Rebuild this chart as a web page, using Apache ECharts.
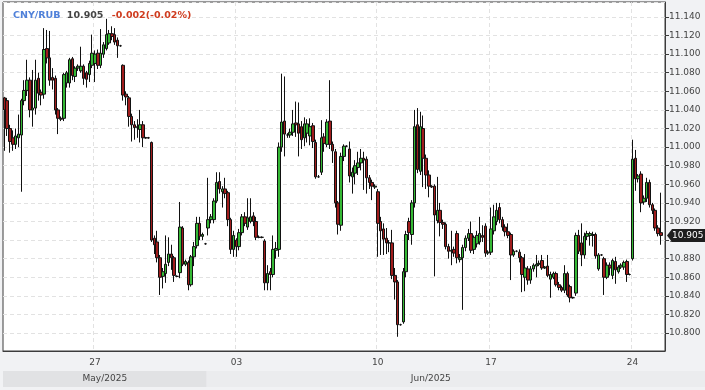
<!DOCTYPE html>
<html><head><meta charset="utf-8">
<script src="https://cdn.jsdelivr.net/npm/echarts@6/dist/echarts.min.js"></script>
<style>html,body{margin:0;padding:0;background:#f1f2f4}#c{width:705px;height:390px}</style>
</head><body><div id="c"></div>
<script>
// trading sessions: [date, number of bars shown]
const sessions = [
  ['2025-05-21',2],['2025-05-22',10],['2025-05-23',10],['2025-05-26',10],['2025-05-27',10],
  ['2025-05-28',10],['2025-05-29',10],['2025-05-30',10],['2025-06-02',10],['2025-06-03',10],
  ['2025-06-04',10],['2025-06-05',10],['2025-06-06',10],['2025-06-09',10],['2025-06-10',10],
  ['2025-06-11',10],['2025-06-13',10],['2025-06-16',10],['2025-06-17',10],['2025-06-18',10],
  ['2025-06-19',10],['2025-06-20',10],['2025-06-23',10],['2025-06-24',10],['2025-06-25',2]
];
const dayTickLabels = {'2025-05-27':'27','2025-06-03':'03','2025-06-10':'10','2025-06-17':'17','2025-06-24':'24'};
const monthLabels = ['May/2025','Jun/2025'];
const yTickValues = ['11.140','11.120','11.100','11.080','11.060','11.040','11.020','11.000','10.980','10.960','10.940','10.920','10.900','10.880','10.860','10.840','10.820','10.800'];
const titleName = 'CNY/RUB';
const lastPrice = 10.905;
const change = '-0.002(-0.02%)';
// [open, close, low, high]
const ohlc = [
[11.053,11.040,10.996,11.054],[11.050,11.020,11.012,11.053],[11.020,11.006,10.994,11.024],[11.010,11.003,10.996,11.018],[11.003,11.012,10.998,11.020],
[11.010,11.014,11.000,11.035],[11.013,11.050,10.952,11.052],[11.050,11.061,11.045,11.072],[11.061,11.072,11.055,11.094],[11.072,11.040,11.032,11.075],
[11.040,11.042,11.022,11.083],[11.042,11.072,11.035,11.094],[11.074,11.058,11.050,11.080],[11.059,11.056,11.045,11.062],[11.057,11.105,11.052,11.128],
[11.106,11.096,11.090,11.126],[11.096,11.072,11.066,11.125],[11.075,11.072,11.062,11.085],[11.074,11.040,11.035,11.077],[11.040,11.031,11.014,11.042],
[11.031,11.030,11.028,11.033],[11.031,11.078,11.028,11.080],[11.069,11.080,11.064,11.082],[11.069,11.094,11.064,11.096],[11.095,11.077,11.072,11.097],
[11.076,11.085,11.070,11.087],[11.085,11.087,11.082,11.089],[11.082,11.087,11.080,11.108],[11.087,11.074,11.067,11.089],[11.080,11.073,11.064,11.082],
[11.078,11.090,11.070,11.093],[11.088,11.101,11.085,11.121],[11.090,11.100,11.070,11.104],[11.101,11.088,11.084,11.105],[11.088,11.101,11.085,11.127],
[11.100,11.110,11.096,11.113],[11.106,11.121,11.104,11.138],[11.112,11.122,11.110,11.126],[11.122,11.119,11.115,11.130],[11.121,11.113,11.110,11.128],
[11.115,11.109,11.096,11.118],[11.109,11.109,11.108,11.110],[11.088,11.056,11.050,11.089],[11.057,11.054,11.045,11.060],[11.053,11.033,11.022,11.055],
[11.033,11.024,11.006,11.036],[11.024,11.021,11.008,11.028],[11.021,11.022,11.010,11.030],[11.019,11.024,11.005,11.040],[11.024,11.010,11.000,11.028],
[11.010,11.010,11.009,11.011],[11.010,11.010,11.009,11.011],[11.005,10.900,10.898,11.006],[10.902,10.895,10.885,10.905],[10.898,10.881,10.876,10.910],
[10.881,10.860,10.841,10.884],[10.861,10.866,10.848,10.870],[10.864,10.874,10.854,10.905],[10.876,10.885,10.872,10.903],[10.885,10.881,10.868,10.895],
[10.881,10.862,10.855,10.883],[10.861,10.861,10.860,10.862],[10.865,10.914,10.859,10.941],[10.913,10.874,10.872,10.915],[10.874,10.877,10.872,10.879],
[10.876,10.852,10.846,10.878],[10.852,10.882,10.850,10.884],[10.882,10.893,10.872,10.898],[10.894,10.918,10.891,10.925],[10.918,10.904,10.900,10.925],
[10.904,10.906,10.900,10.908],[10.896,10.896,10.895,10.897],[10.913,10.922,10.905,10.967],[10.922,10.925,10.918,10.928],[10.922,10.942,10.918,10.945],
[10.942,10.962,10.940,10.973],[10.963,10.955,10.950,10.973],[10.952,10.955,10.935,10.958],[10.955,10.950,10.945,10.967],[10.951,10.922,10.915,10.953],
[10.922,10.890,10.885,10.924],[10.890,10.905,10.882,10.910],[10.900,10.893,10.882,10.902],[10.893,10.908,10.889,10.912],[10.908,10.925,10.905,10.928],
[10.925,10.918,10.915,10.930],[10.914,10.924,10.911,10.945],[10.920,10.925,10.918,10.945],[10.926,10.920,10.915,10.930],[10.920,10.903,10.900,10.925],
[10.903,10.903,10.902,10.905],[10.903,10.903,10.902,10.904],[10.899,10.854,10.846,10.901],[10.854,10.864,10.846,10.873],[10.866,10.863,10.846,10.870],
[10.863,10.890,10.860,10.905],[10.889,10.891,10.880,10.898],[10.890,11.000,10.882,11.005],[11.000,11.027,10.995,11.079],[11.028,11.014,10.990,11.076],
[11.013,11.013,11.010,11.015],[11.013,11.016,11.010,11.020],[11.016,11.025,11.012,11.040],[11.026,11.024,11.011,11.049],[11.025,11.015,10.990,11.048],
[11.022,11.008,10.998,11.028],[11.010,11.025,11.001,11.032],[11.015,11.025,11.005,11.030],[11.012,11.022,11.002,11.031],[11.023,11.006,10.999,11.026],
[11.005,10.968,10.966,11.008],[10.968,10.968,10.967,10.970],[10.973,11.010,10.970,11.029],[11.011,11.004,10.995,11.015],[11.003,11.027,11.000,11.030],
[11.028,11.003,10.998,11.072],[11.003,10.996,10.983,11.006],[10.995,10.940,10.935,10.998],[10.940,10.917,10.906,10.942],[10.916,10.990,10.910,10.994],
[10.990,11.001,10.985,11.003],[11.001,11.001,11.000,11.002],[10.998,10.969,10.962,11.006],[10.968,10.973,10.950,10.978],[10.972,10.980,10.960,10.986],
[10.978,10.983,10.970,10.995],[10.983,10.988,10.975,10.998],[10.988,10.986,10.954,10.995],[10.987,10.967,10.950,10.990],[10.967,10.962,10.955,10.970],
[10.962,10.958,10.943,10.965],[10.957,10.958,10.955,10.960],[10.952,10.918,10.882,10.955],[10.920,10.910,10.884,10.925],[10.912,10.901,10.884,10.918],
[10.902,10.897,10.885,10.913],[10.897,10.897,10.887,10.900],[10.897,10.862,10.858,10.911],[10.862,10.855,10.836,10.870],[10.855,10.809,10.796,10.857],
[10.809,10.809,10.808,10.810],[10.812,10.866,10.810,10.870],[10.866,10.906,10.860,10.910],[10.920,10.908,10.900,10.924],[10.906,10.940,10.895,10.943],
[10.940,11.022,10.935,11.040],[11.024,10.976,10.972,11.042],[10.974,11.022,10.970,11.038],[11.020,10.988,10.957,11.034],[10.988,10.970,10.955,10.992],
[10.970,10.958,10.946,10.975],[10.958,10.957,10.956,10.959],[10.958,10.927,10.861,10.960],[10.921,10.932,10.918,10.968],[10.932,10.919,10.904,10.940],
[10.919,10.917,10.912,10.922],[10.917,10.893,10.890,10.919],[10.893,10.888,10.880,10.896],[10.888,10.889,10.873,10.910],[10.890,10.886,10.882,10.893],
[10.907,10.881,10.875,10.910],[10.879,10.881,10.876,10.885],[10.881,10.892,10.825,10.895],[10.892,10.902,10.888,10.905],[10.902,10.907,10.899,10.912],
[10.907,10.889,10.886,10.920],[10.890,10.903,10.885,10.905],[10.896,10.905,10.892,10.910],[10.898,10.907,10.895,10.925],[10.905,10.903,10.898,10.916],
[10.915,10.886,10.882,10.918],[10.886,10.887,10.884,10.889],[10.887,10.912,10.884,10.935],[10.910,10.925,10.906,10.938],[10.920,10.932,10.916,10.940],
[10.935,10.922,10.918,10.940],[10.922,10.914,10.910,10.925],[10.914,10.909,10.904,10.917],[10.909,10.905,10.902,10.918],[10.906,10.884,10.857,10.908],
[10.884,10.888,10.882,10.890],[10.888,10.888,10.887,10.889],[10.887,10.881,10.876,10.890],[10.881,10.863,10.844,10.883],[10.860,10.870,10.845,10.885],
[10.869,10.857,10.852,10.872],[10.857,10.869,10.853,10.872],[10.869,10.873,10.866,10.875],[10.872,10.874,10.860,10.884],[10.874,10.875,10.872,10.878],
[10.878,10.870,10.868,10.884],[10.870,10.871,10.869,10.872],[10.872,10.862,10.860,10.884],[10.858,10.863,10.838,10.866],[10.860,10.864,10.858,10.866],
[10.864,10.852,10.850,10.866],[10.852,10.849,10.846,10.855],[10.849,10.846,10.844,10.851],[10.846,10.864,10.843,10.873],[10.864,10.841,10.839,10.866],
[10.850,10.838,10.833,10.852],[10.838,10.838,10.837,10.839],[10.843,10.905,10.840,10.908],[10.905,10.888,10.885,10.911],[10.897,10.884,10.872,10.918],
[10.884,10.904,10.880,10.908],[10.904,10.907,10.900,10.910],[10.905,10.907,10.894,10.909],[10.905,10.906,10.893,10.909],[10.906,10.883,10.880,10.908],
[10.869,10.884,10.867,10.886],[10.884,10.884,10.883,10.885],[10.880,10.860,10.841,10.882],[10.860,10.873,10.858,10.876],[10.873,10.870,10.862,10.876],
[10.862,10.878,10.858,10.880],[10.877,10.868,10.853,10.882],[10.866,10.871,10.864,10.873],[10.871,10.873,10.869,10.875],[10.871,10.876,10.868,10.878],
[10.877,10.863,10.855,10.879],[10.863,10.863,10.862,10.864],[10.880,10.987,10.878,11.008],[10.988,10.966,10.953,10.997],[10.966,10.969,10.962,10.971],
[10.971,10.940,10.930,10.974],[10.941,10.945,10.938,10.948],[10.945,10.962,10.941,10.967],[10.962,10.938,10.935,10.965],[10.938,10.932,10.928,10.940],
[10.932,10.913,10.910,10.934],[10.913,10.907,10.904,10.916],[10.908,10.905,10.895,10.951],
'-'
];

// build categories from sessions
const categories = [];
const tickIndex = {};
const monthStart = {};
sessions.forEach(([d, n]) => {
  if (dayTickLabels[d]) tickIndex[categories.length] = dayTickLabels[d];
  const m = d.slice(0, 7);
  if (monthStart[m] === undefined) monthStart[m] = categories.length;
  for (let k = 0; k < n; k++) categories.push(d + ' #' + k);
});
const showTick = (i) => tickIndex[i] !== undefined;

const FONT = 'DejaVu Sans';
const chart = echarts.init(document.getElementById('c'), null, {renderer: 'canvas'});
chart.setOption({
  animation: false,
  backgroundColor: '#f1f2f4',
  textStyle: {fontFamily: FONT},
  title: {
    left: 8, top: 2,
    text: '{a|' + titleName + '} {b|' + lastPrice.toFixed(3) + '} {c|' + change + '}',
    textStyle: {
      rich: {
        a: {color: '#4f80d9', fontSize: 9.5, fontWeight: 'bold', fontFamily: FONT},
        b: {color: '#444', fontSize: 9.5, fontWeight: 'bold', fontFamily: FONT},
        c: {color: '#cf3b1e', fontSize: 9.5, fontWeight: 'bold', fontFamily: FONT, padding: [0, 0, 0, 2]}
      }
    }
  },
  grid: {left: 3, top: 2, width: 662, height: 349, show: true, backgroundColor: '#ffffff', borderColor: '#3c3c3c', borderWidth: 1, z: 0},
  xAxis: {
    type: 'category', data: categories, boundaryGap: true,
    axisLine: {show: true, lineStyle: {color: '#3c3c3c'}},
    axisTick: {show: false, interval: showTick},
    axisLabel: {interval: showTick, formatter: (v, i) => tickIndex[i] || '', fontSize: 9, color: '#444', margin: 7, fontFamily: FONT},
    splitLine: {show: true, interval: showTick, lineStyle: {color: '#e2e2e2', type: [4, 3]}}
  },
  yAxis: {
    type: 'value', position: 'right', scale: true,
    min: 10.7807, max: 11.1561, splitNumber: 19, minInterval: 0.02, maxInterval: 0.02,
    axisLine: {show: true, lineStyle: {color: '#3c3c3c'}},
    axisTick: {show: true, length: 4, lineStyle: {color: '#3c3c3c'}},
    axisLabel: {
      showMinLabel: false, showMaxLabel: false, fontSize: 9, color: '#444', margin: 4, fontFamily: FONT,
      formatter: (v) => { const s = v.toFixed(3); return yTickValues.indexOf(s) >= 0 ? s : ''; }
    },
    splitLine: {show: true, lineStyle: {color: '#e2e2e2', type: [4, 3]}}
  },
  series: [{
    type: 'candlestick', data: ohlc, barWidth: 3,
    itemStyle: {color: '#35b835', color0: '#a01c1c', borderColor: '#111', borderColor0: '#111', borderWidth: 1}
  }]
});

// overlay decorations positioned from the chart's own scales
const yLast = chart.convertToPixel({yAxisIndex: 0}, lastPrice);
const half = (chart.convertToPixel({xAxisIndex: 0}, 1) - chart.convertToPixel({xAxisIndex: 0}, 0)) / 2;
const junX = chart.convertToPixel({xAxisIndex: 0}, monthStart['2025-06']) - half;
const leftX = 3, rightEdge = 705, plotRight = 665;
chart.setOption({
  graphic: [
    {type: 'rect', shape: {x: leftX, y: 371, width: junX - leftX, height: 16}, style: {fill: '#e1e2e4'}, silent: true},
    {type: 'rect', shape: {x: junX, y: 371, width: rightEdge - junX, height: 16}, style: {fill: '#ebecee'}, silent: true},
    {type: 'text', x: (leftX + junX) / 2, y: 379, style: {text: monthLabels[0], fill: '#444', font: '9px "DejaVu Sans"', align: 'center', verticalAlign: 'middle'}, silent: true},
    {type: 'text', x: (junX + plotRight - 10) / 2, y: 379, style: {text: monthLabels[1], fill: '#444', font: '9px "DejaVu Sans"', align: 'center', verticalAlign: 'middle'}, silent: true},
    {type: 'polygon', z: 100, shape: {points: [[667, yLast], [672, yLast - 6.5], [705, yLast - 6.5], [705, yLast + 6.5], [672, yLast + 6.5]]}, style: {fill: '#1e1e1e'}, silent: true},
    {type: 'text', z: 101, x: 672, y: yLast, style: {text: lastPrice.toFixed(3), fill: '#fff', font: '9px "DejaVu Sans"', align: 'left', verticalAlign: 'middle'}, silent: true}
  ]
});
</script></body></html>
